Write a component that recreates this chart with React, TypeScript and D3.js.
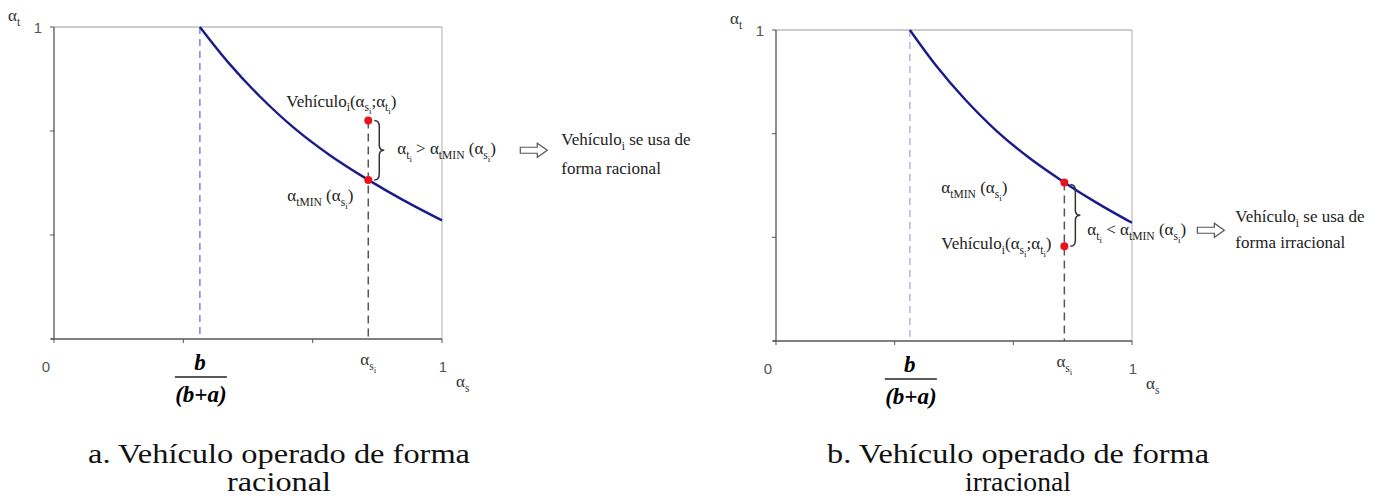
import * as d3 from 'd3';
import React from 'react';

// minimum-rate curve αtMIN(αs)
const curveS = [0.376, 0.45, 0.53, 0.62, 0.71, 0.81, 0.9, 1];
const curveT = [1, 0.885, 0.778, 0.675, 0.59, 0.51, 0.445, 0.38];
const bRatio = 0.376; // b/(b+a)
const alphaSi = 0.81;
const vehicleT = [0.7, 0.305]; // panel a (rational), panel b (irrational)
const axisTicks = [0, 1 / 3, 2 / 3, 1];
const captions = [
  ['a. Vehículo operado de forma', 'racional'],
  ['b. Vehículo operado de forma', 'irracional'],
];

type Part = [string, number];
const SERIF = '"Liberation Serif", "Times New Roman", serif';
const SANS = '"Liberation Sans", Arial, sans-serif';

const Rich = ({ x, y, parts, size = 17, anchor = 'start', fill = '#222' }: { x: number; y: number; parts: Part[]; size?: number; anchor?: string; fill?: string }) => {
  const off = [0, size * 0.28, size * 0.45];
  const scl = [1, 0.68, 0.52];
  let prev = 0;
  return (
    <text x={x} y={y} fontFamily={SERIF} fontSize={size} textAnchor={anchor as any} fill={fill}>
      {parts.map(([t, l], i) => {
        const dy = off[l] - off[prev];
        prev = l;
        return (
          <tspan key={i} dy={dy} fontSize={size * scl[l]}>{t}</tspan>
        );
      })}
    </text>
  );
};

const vehLabel: Part[] = [['Vehículo', 0], ['i', 1], ['(α', 0], ['s', 1], ['i', 2], [';α', 0], ['t', 1], ['i', 2], [')', 0]];
const minLabel: Part[] = [['α', 0], ['tMIN', 1], [' (α', 0], ['s', 1], ['i', 2], [')', 0]];
const ineq = (op: string): Part[] => [['α', 0], ['t', 1], ['i', 2], [` ${op} α`, 0], ['tMIN', 1], [' (α', 0], ['s', 1], ['i', 2], [')', 0]];
const useLabel: Part[] = [['Vehículo', 0], ['i', 1], [' se usa de', 0]];

type PanelProps = {
  left: number; right: number; top: number; bottom: number;
  idx: number; dashColor: string;
};

const Brace = ({ x, y1, y2 }: { x: number; y1: number; y2: number }) => {
  const w = 5, ym = (y1 + y2) / 2;
  const d = `M${x},${y1} Q${x + w},${y1} ${x + w},${y1 + 6} L${x + w},${ym - 5} Q${x + w},${ym} ${x + 2 * w},${ym} Q${x + w},${ym} ${x + w},${ym + 5} L${x + w},${y2 - 6} Q${x + w},${y2} ${x},${y2}`;
  return <path d={d} fill="none" stroke="#333" strokeWidth={1.5} />;
};

const Arrow = ({ x, y }: { x: number; y: number }) => (
  <path d={`M${x},${y - 3} L${x + 17},${y - 3} L${x + 17},${y - 7} L${x + 27},${y} L${x + 17},${y + 7} L${x + 17},${y + 3} L${x},${y + 3} Z`} fill="#fff" stroke="#555" strokeWidth={1.2} />
);

const Panel = ({ left, right, top, bottom, idx, dashColor }: PanelProps) => {
  const x = d3.scaleLinear().domain([0, 1]).range([left, right]);
  const y = d3.scaleLinear().domain([0, 1]).range([bottom, top]);
  const line = d3.line<number>().x((_, i) => x(curveS[i])).y(d => y(d)).curve(d3.curveCatmullRom);
  const tMin = d3.scaleLinear().domain(curveS).range(curveT)(alphaSi);
  const vt = vehicleT[idx];
  const px = x(alphaSi), pyMin = y(tMin), pyVeh = y(vt);
  const rational = idx === 0;
  const bx = x(bRatio);
  const mid = (pyVeh + pyMin) / 2;
  return (
    <g>
      {/* frame */}
      <line x1={left} x2={right} y1={top} y2={top} stroke="#999" />
      <line x1={right} x2={right} y1={top} y2={bottom} stroke="#c8c8c8" strokeWidth={1.5} />
      <line x1={left} x2={left} y1={top} y2={bottom} stroke="#555" strokeWidth={1.3} />
      <line x1={left - 3} x2={right} y1={bottom} y2={bottom} stroke="#555" strokeWidth={1.3} />
      {axisTicks.map((t, i) => (
        <g key={i}>
          <line x1={x(t)} x2={x(t)} y1={bottom} y2={bottom + 4} stroke="#555" />
          <line x1={left - 4} x2={left} y1={y(t)} y2={y(t)} stroke="#555" />
        </g>
      ))}
      {/* tick labels */}
      <text x={x(0) - 8} y={bottom + 33} fontFamily={SANS} fontSize={15} fill="#555" textAnchor="middle">0</text>
      <text x={x(1) + 1} y={bottom + 33} fontFamily={SANS} fontSize={15} fill="#555" textAnchor="middle">1</text>
      <text x={left - 16} y={y(1) + 6} fontFamily={SANS} fontSize={15} fill="#555" textAnchor="middle">1</text>
      <Rich x={left - 46} y={top - 6} parts={[['α', 0], ['t', 1]]} fill="#333" />
      <Rich x={right + 14} y={bottom + 48} parts={[['α', 0], ['s', 1]]} fill="#333" />
      <Rich x={px} y={bottom + 26} parts={[['α', 0], ['s', 1], ['i', 2]]} anchor="middle" fill="#333" />
      {/* b/(b+a) */}
      <text x={bx} y={bottom + 31} fontFamily={SERIF} fontSize={23} fontWeight="bold" fontStyle="italic" textAnchor="middle">b</text>
      <line x1={bx - 25} x2={bx + 27} y1={bottom + 38} y2={bottom + 38} stroke="#222" strokeWidth={1.6} />
      <text x={bx + 1} y={bottom + 63} fontFamily={SERIF} fontSize={23} fontWeight="bold" fontStyle="italic" textAnchor="middle">(b+a)</text>
      {/* guides */}
      <line x1={bx} x2={bx} y1={y(1)} y2={bottom} stroke={dashColor} strokeWidth={1.3} strokeDasharray="7,5" />
      <line x1={px} x2={px} y1={Math.min(pyMin, pyVeh)} y2={bottom} stroke="#555" strokeWidth={1.5} strokeDasharray="8,5" />
      <path d={line(curveT) ?? ''} fill="none" stroke="#1a1a8a" strokeWidth={2.4} />
      <circle cx={px} cy={pyMin} r={4} fill="#e8141c" />
      <circle cx={px} cy={pyVeh} r={4} fill="#e8141c" />
      {/* annotations */}
      {rational ? (
        <g>
          <Rich x={px - 82} y={pyVeh - 14} parts={vehLabel} />
          <Rich x={px - 81} y={pyMin + 21} parts={minLabel} />
          <Brace x={px + 6} y1={pyVeh} y2={pyMin} />
          <Rich x={px + 29} y={mid + 4} parts={ineq('>')} />
          <Arrow x={px + 152} y={mid} />
          <Rich x={px + 193} y={mid - 5} parts={useLabel} />
          <text x={px + 193} y={mid + 24} fontFamily={SERIF} fontSize={17} fill="#222">forma racional</text>
        </g>
      ) : (
        <g>
          <Rich x={px - 123} y={pyMin + 11} parts={minLabel} />
          <Rich x={px - 123} y={pyVeh + 3} parts={vehLabel} />
          <Brace x={px + 6} y1={pyMin + 2} y2={pyVeh} />
          <Rich x={px + 23} y={mid + 21} parts={ineq('<')} />
          <Arrow x={px + 133} y={mid + 16} />
          <Rich x={px + 171} y={mid + 8} parts={useLabel} />
          <text x={px + 171} y={mid + 34} fontFamily={SERIF} fontSize={17} fill="#222">forma irracional</text>
        </g>
      )}
    </g>
  );
};

export default function App() {
  const capX = [279, 1018];
  const capW = [[382, 104], [382, 106]];
  return (
    <svg width={1378} height={499} style={{ position: 'absolute', left: 0, top: 0, background: '#fff' }}>
      <Panel left={54} right={442} top={27} bottom={339} idx={0} dashColor="#6f6fd8" />
      <Panel left={776} right={1132} top={30} bottom={341} idx={1} dashColor="#a8a8e6" />
      {captions.map((c, i) => (
        <g key={i}>
          <text x={capX[i]} y={463} fontFamily={SERIF} fontSize={28} textAnchor="middle" fill="#111" textLength={capW[i][0]} lengthAdjust="spacingAndGlyphs">{c[0]}</text>
          <text x={capX[i]} y={491} fontFamily={SERIF} fontSize={28} textAnchor="middle" fill="#111" textLength={capW[i][1]} lengthAdjust="spacingAndGlyphs">{c[1]}</text>
        </g>
      ))}
    </svg>
  );
}
